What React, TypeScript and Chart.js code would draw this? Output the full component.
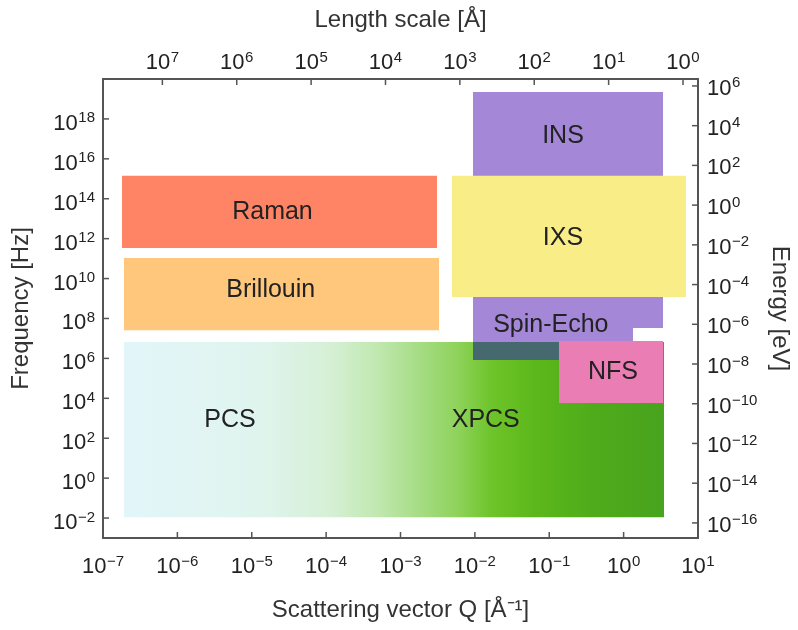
import { useEffect, useRef } from "react";
import { Chart, registerables } from "chart.js";

Chart.register(...registerables);

// ---- data ----
const regionNames = ["XPCS", "INS", "Spin-Echo", "Spin-Echo∩XPCS", "NFS", "IXS", "Raman", "Brillouin"];
// scattering vector range [Å^-1]
const qLow = [1.9e-7, 9.4e-3, 9.4e-3, 9.4e-3, 0.135, 4.9e-3, 1.8e-7, 1.9e-7];
const qHigh = [3.5, 3.4, 1.34, 0.135, 3.4, 6.9, 3.1e-3, 3.3e-3];
// frequency range [Hz]
const fLow = [1.1e-2, 3.3e7, 8.3e5, 8.3e5, 5.8e3, 1.2e9, 3.4e11, 2.6e7];
const fHigh = [6.6e6, 2.2e19, 1.2e9, 6.6e6, 7.4e6, 1.4e15, 1.4e15, 1.07e11];
const regionColors = ["gradient", "#a487d6", "#a487d6", "#46696f", "#eb7db5", "#f9ed87", "#fe8465", "#fec77b"];
const regionOrder = [8, 7, 6, 5, 4, 3, 2, 1];

// region text labels
const labelTexts = ["Raman", "Brillouin", "PCS", "XPCS", "INS", "IXS", "Spin-Echo", "NFS"];
const labelQ = [1.9e-5, 1.8e-5, 5.1e-6, 1.4e-2, 0.153, 0.153, 0.105, 0.72];
const labelF = [2.2e13, 2.6e9, 8e2, 8e2, 1.4e17, 1.1e12, 4.7e7, 2.1e5];

// axis ticks
const qTicks = [1e-7, 1e-6, 1e-5, 1e-4, 1e-3, 1e-2, 1e-1, 1e0, 1e1];
const lengthTicks = [1e7, 1e6, 1e5, 1e4, 1e3, 1e2, 1e1, 1e0];
const freqTicks = [1e-2, 1e0, 1e2, 1e4, 1e6, 1e8, 1e10, 1e12, 1e14, 1e16, 1e18];
const energyTicks = [1e-16, 1e-14, 1e-12, 1e-10, 1e-8, 1e-6, 1e-4, 1e-2, 1e0, 1e2, 1e4, 1e6];

// gradient of the PCS/XPCS band (fraction along band, colour)
const gradStops = [0, 0.25, 0.38, 0.47, 0.55, 0.62, 0.68, 0.76, 0.87, 1];
const gradColors = ["#e2f5f9", "#e0f4ee", "#d6f0d6", "#c0e8b0", "#a5dc82", "#8ed25a", "#6ec42a", "#5cb81a", "#4fab1a", "#48a31e"];

const Q_MIN = 1e-7;
const Q_MAX = 1e1;
const F_MIN = 1e-3;
const F_MAX = 1e20;
const E_MIN = Math.pow(10, -16.76);
const E_MAX = Math.pow(10, 6.35);
const TWO_PI = 2 * Math.PI;

const FONT = "'Liberation Sans', Arial, Helvetica, sans-serif";
const TEXT = "#222";

const setTicks = (list: number[]) => (scale: any) => {
  scale.ticks = list.map((value) => ({ value }));
};

// draws "10" with a raised exponent; yMid is the vertical middle of "10"
function drawPow(ctx: CanvasRenderingContext2D, v: number, x: number, yMid: number, align: string) {
  const e = Math.round(Math.log10(v));
  const base = "10";
  const exp = String(e).replace("-", "−");
  ctx.font = `22px ${FONT}`;
  const wb = ctx.measureText(base).width;
  ctx.font = `15px ${FONT}`;
  const we = ctx.measureText(exp).width;
  const gap = 0.5;
  const total = wb + gap + we;
  const x0 = align === "left" ? x : align === "right" ? x - total : x - total / 2;
  ctx.textAlign = "left";
  ctx.textBaseline = "alphabetic";
  ctx.font = `22px ${FONT}`;
  ctx.fillText(base, x0, yMid + 8);
  ctx.font = `15px ${FONT}`;
  ctx.fillText(exp, x0 + wb + gap, yMid + 0.5);
}

const axisDecor = {
  id: "axisDecor",
  afterDraw(chart: any) {
    const { ctx, chartArea } = chart;
    ctx.save();
    ctx.strokeStyle = "#555";
    ctx.lineWidth = 1.5;
    ctx.fillStyle = TEXT;
    const len = 6;
    Object.values(chart.scales).forEach((scale: any) => {
      scale.ticks.forEach((t: any) => {
        const p = scale.getPixelForValue(t.value);
        ctx.beginPath();
        if (scale.position === "bottom") {
          ctx.moveTo(p, chartArea.bottom);
          ctx.lineTo(p, chartArea.bottom - len);
        } else if (scale.position === "top") {
          ctx.moveTo(p, chartArea.top);
          ctx.lineTo(p, chartArea.top + len);
        } else if (scale.position === "left") {
          ctx.moveTo(chartArea.left, p);
          ctx.lineTo(chartArea.left + len, p);
        } else {
          ctx.moveTo(chartArea.right, p);
          ctx.lineTo(chartArea.right - len, p);
        }
        ctx.stroke();
        if (scale.position === "bottom") drawPow(ctx, t.value, p, chartArea.bottom + 27, "center");
        else if (scale.position === "top") drawPow(ctx, t.value, p, chartArea.top - 18, "center");
        else if (scale.position === "left") drawPow(ctx, t.value, chartArea.left - 8, p + 3, "right");
        else drawPow(ctx, t.value, chartArea.right + 9, p + 1, "left");
      });
    });
    ctx.restore();
  },
};

const regionLabels = {
  id: "regionLabels",
  afterDatasetsDraw(chart: any) {
    const { ctx, scales } = chart;
    ctx.save();
    ctx.font = `25px ${FONT}`;
    ctx.fillStyle = TEXT;
    ctx.textAlign = "center";
    ctx.textBaseline = "middle";
    labelTexts.forEach((t, i) => {
      ctx.fillText(t, scales.x.getPixelForValue(labelQ[i]), scales.y.getPixelForValue(labelF[i]));
    });
    ctx.restore();
  },
};

export default function App() {
  const ref = useRef<HTMLCanvasElement>(null);

  useEffect(() => {
    if (!ref.current) return;
    const datasets = regionNames.map((name, i) => ({
      label: name,
      data: [
        { x: qLow[i], y: fHigh[i] },
        { x: qHigh[i], y: fHigh[i] },
      ],
      xAxisID: "x",
      yAxisID: "y",
      fill: { value: fLow[i] },
      borderWidth: 0,
      pointRadius: 0,
      order: regionOrder[i],
      backgroundColor:
        regionColors[i] === "gradient"
          ? (c: any) => {
              const chart = c.chart;
              if (!chart.chartArea) return gradColors[gradColors.length - 1];
              const x0 = chart.scales.x.getPixelForValue(qLow[i]);
              const x1 = chart.scales.x.getPixelForValue(qHigh[i]);
              const g = chart.ctx.createLinearGradient(x0, 0, x1, 0);
              gradStops.forEach((s, k) => g.addColorStop(s, gradColors[k]));
              return g;
            }
          : regionColors[i],
      borderColor: "rgba(0,0,0,0)",
    }));

    const titleFont = { family: FONT, size: 24 };
    const border = { display: true, color: "#555", width: 2 };
    const grid = { display: true, drawOnChartArea: false, drawTicks: false };
    const ticks = { display: false, autoSkip: false };

    const chart = new Chart(ref.current, {
      type: "line",
      data: { datasets: datasets as any },
      plugins: [axisDecor, regionLabels],
      options: {
        animation: false,
        responsive: false,
        layout: { padding: 0 },
        plugins: { legend: { display: false }, tooltip: { enabled: false } },
        elements: { line: { tension: 0 } },
        scales: {
          x: {
            type: "logarithmic",
            position: "bottom",
            min: Q_MIN,
            max: Q_MAX,
            bounds: "data",
            afterBuildTicks: setTicks(qTicks),
            afterFit: (s: any) => { s.height = 92; },
            ticks,
            grid,
            border,
            title: { display: true, text: "Scattering vector Q [Å⁻¹]", font: titleFont, color: "#333", padding: { top: 0, bottom: 5 } },
          },
          xTop: {
            type: "logarithmic",
            position: "top",
            reverse: true,
            min: TWO_PI / Q_MAX,
            max: TWO_PI / Q_MIN,
            bounds: "data",
            afterBuildTicks: setTicks(lengthTicks),
            afterFit: (s: any) => { s.height = 79; },
            ticks,
            grid,
            border,
            title: { display: true, text: "Length scale [Å]", font: titleFont, color: "#333", padding: { top: 6, bottom: 0 } },
          },
          y: {
            type: "logarithmic",
            position: "left",
            min: F_MIN,
            max: F_MAX,
            bounds: "data",
            afterBuildTicks: setTicks(freqTicks),
            afterFit: (s: any) => { s.width = 103; },
            ticks,
            grid,
            border,
            title: { display: true, text: "Frequency [Hz]", font: titleFont, color: "#333", padding: { top: 7, bottom: 0 } },
          },
          yRight: {
            type: "logarithmic",
            position: "right",
            min: E_MIN,
            max: E_MAX,
            bounds: "data",
            afterBuildTicks: setTicks(energyTicks),
            afterFit: (s: any) => { s.width = 100; },
            ticks,
            grid,
            border,
            title: { display: true, text: "Energy [eV]", font: titleFont, color: "#333", padding: { top: 4, bottom: 0 } },
          },
        },
      } as any,
    });
    return () => chart.destroy();
  }, []);

  return (
    <div style={{ position: "fixed", left: 0, top: 0, width: 798, height: 630, background: "#fff" }}>
      <canvas ref={ref} width={798} height={630} style={{ display: "block" }} />
    </div>
  );
}
